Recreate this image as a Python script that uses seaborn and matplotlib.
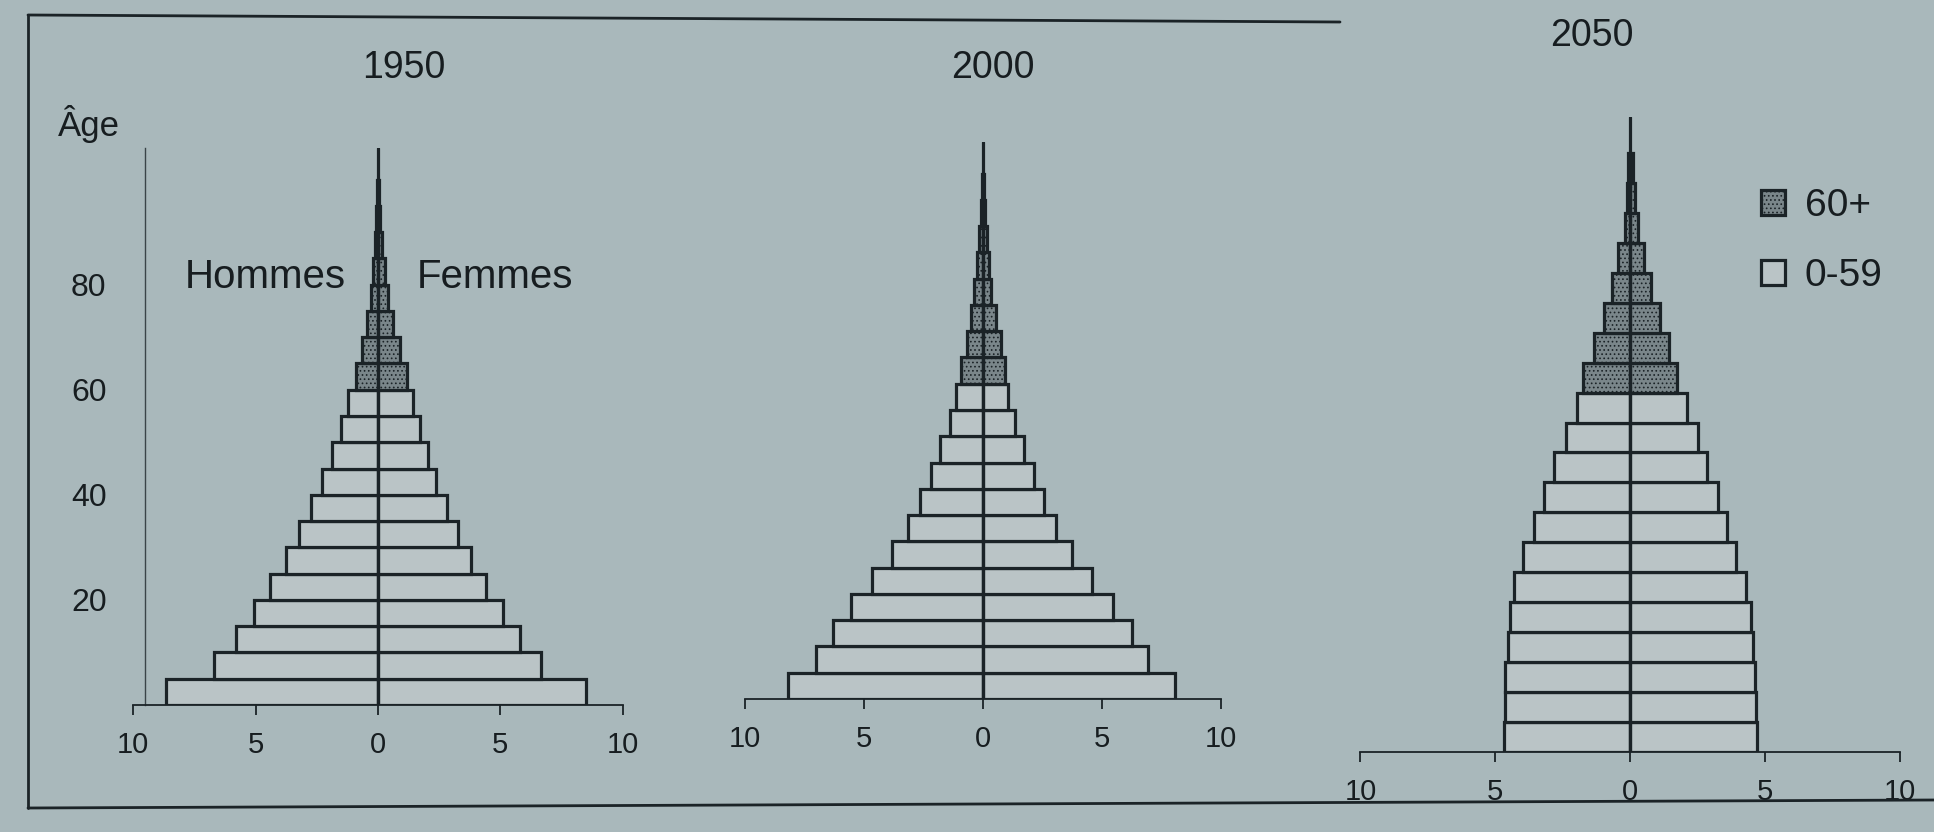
import numpy as np
import pandas as pd
import seaborn as sns
import matplotlib.pyplot as plt
from matplotlib.colors import to_rgb
from matplotlib.patches import Patch
from matplotlib.lines import Line2D

# --- data: share of total population (%) by 5-year age group ---
age_start = [0, 5, 10, 15, 20, 25, 30, 35, 40, 45, 50, 55, 60, 65, 70, 75, 80, 85, 90, 95]
years = ['1950', '2000', '2050']

men_1950 = [8.67, 6.69, 5.81, 5.06, 4.43, 3.77, 3.24, 2.72, 2.29, 1.87,
            1.52, 1.22, 0.91, 0.66, 0.44, 0.29, 0.20, 0.12, 0.07, 0.03]
women_1950 = [8.51, 6.67, 5.81, 5.09, 4.41, 3.81, 3.26, 2.82, 2.37, 2.04,
              1.73, 1.43, 1.20, 0.88, 0.60, 0.41, 0.28, 0.18, 0.10, 0.05]

men_2000 = [8.17, 7.00, 6.32, 5.56, 4.65, 3.82, 3.17, 2.64, 2.20, 1.80,
            1.39, 1.14, 0.91, 0.68, 0.52, 0.38, 0.25, 0.15, 0.08, 0.04]
women_2000 = [8.08, 6.92, 6.24, 5.48, 4.59, 3.74, 3.08, 2.58, 2.15, 1.74,
              1.36, 1.06, 0.94, 0.76, 0.53, 0.33, 0.25, 0.17, 0.10, 0.06]

men_2050 = [4.67, 4.65, 4.63, 4.54, 4.46, 4.29, 3.97, 3.57, 3.18, 2.81,
            2.39, 1.96, 1.75, 1.35, 0.96, 0.66, 0.43, 0.20, 0.12, 0.07]
women_2050 = [4.72, 4.66, 4.62, 4.57, 4.48, 4.29, 3.94, 3.60, 3.27, 2.87,
              2.54, 2.13, 1.73, 1.44, 1.10, 0.78, 0.52, 0.30, 0.18, 0.10]

men = {'1950': men_1950, '2000': men_2000, '2050': men_2050}
women = {'1950': women_1950, '2000': women_2000, '2050': women_2050}

rows = []
for y in years:
    for a, m, w in zip(age_start, men[y], women[y]):
        grp = '60+' if a >= 60 else '0-59'
        rows.append((y, a + 2.5, 'Hommes', -m, grp))
        rows.append((y, a + 2.5, 'Femmes', w, grp))
df = pd.DataFrame(rows, columns=['year', 'age', 'sex', 'value', 'group'])

# --- style ---
BG = '#a9b8bb'
LIGHT = '#bac4c6'
DARK = '#7a868a'
EDGE = '#1b2327'
TXT = '#171d20'

sns.set_style('white')
plt.rcParams['font.family'] = ['Liberation Sans', 'DejaVu Sans']
plt.rcParams['hatch.linewidth'] = 0.7

fig = plt.figure(figsize=(19.34, 8.32), dpi=100)
fig.patch.set_facecolor(BG)

W, H = 1934, 832
def box(left, top, right, bottom):
    return [left / W, 1 - bottom / H, (right - left) / W, (bottom - top) / H]

axes = [fig.add_axes(box(121, 148, 635, 705)),
        fig.add_axes(box(733, 142, 1233, 699)),
        fig.add_axes(box(1347, 117, 1913, 752))]

pal = {'0-59': LIGHT, '60+': DARK}
for ax, y in zip(axes, years):
    d = df[df['year'] == y]
    for sex in ['Hommes', 'Femmes']:
        sns.barplot(data=d[d['sex'] == sex], x='value', y='age', hue='group',
                    hue_order=['0-59', '60+'], palette=pal, orient='y',
                    native_scale=True, width=1, dodge=False, errorbar=None,
                    legend=False, saturation=1, edgecolor=EDGE, linewidth=2.3, ax=ax)
    for p in ax.patches:
        if np.allclose(p.get_facecolor()[:3], to_rgb(DARK)):
            p.set_hatch('....')
    ax.axvline(0, color=EDGE, lw=2.3, zorder=5)
    ax.set_facecolor('none')
    ax.set_xlim(-10.5, 10.5)
    ax.set_ylim(0, 106)
    ax.set_xticks([-10, -5, 0, 5, 10])
    ax.set_xticklabels(['10', '5', '0', '5', '10'])
    ax.set_xlabel('')
    ax.set_ylabel('')
    for s in ['top', 'right', 'left']:
        ax.spines[s].set_visible(False)
    ax.spines['bottom'].set_bounds(-10, 10)
    ax.spines['bottom'].set_linewidth(1.3)
    ax.spines['bottom'].set_color(EDGE)
    ax.tick_params(axis='x', direction='out', length=7, width=1.3, color=EDGE,
                   labelsize=21, labelcolor=TXT, pad=12, bottom=True)
    ax.set_yticks([])

# age axis on the first panel only
ax0 = axes[0]
ax0.spines['left'].set_visible(True)
ax0.spines['left'].set_position(('data', -9.5))
ax0.spines['left'].set_linewidth(1.0)
ax0.spines['left'].set_color('#3a4448')
ax0.set_yticks([20, 40, 60, 80])
ax0.tick_params(axis='y', length=0, labelsize=23, labelcolor=TXT, pad=28, left=True)
ax0.text(-4.6, 81.5, 'Hommes', ha='center', va='center', fontsize=29, color=TXT)
ax0.text(4.8, 81.5, 'Femmes', ha='center', va='center', fontsize=29, color=TXT)

fig.text(89 / W, 1 - 124 / H, 'Âge', ha='center', va='center', fontsize=25, color=TXT)
fig.text(404 / W, 1 - 68 / H, '1950', ha='center', va='center', fontsize=27, color=TXT)
fig.text(993 / W, 1 - 68 / H, '2000', ha='center', va='center', fontsize=27, color=TXT)
fig.text(1592 / W, 1 - 36 / H, '2050', ha='center', va='center', fontsize=27, color=TXT)

handles = [Patch(facecolor=DARK, edgecolor=EDGE, hatch='....', linewidth=2.3),
           Patch(facecolor=LIGHT, edgecolor=EDGE, linewidth=2.3)]
leg = fig.legend(handles, ['60+', '0-59'], loc='upper left',
                 bbox_to_anchor=(1761 / W, 1 - 188 / H), frameon=False,
                 fontsize=28, handlelength=0.62, handleheight=0.62,
                 handletextpad=0.5, labelspacing=0.87, borderpad=0,
                 borderaxespad=0)
for t in leg.get_texts():
    t.set_color(TXT)

# page frame of the printed figure
fig.add_artist(Line2D([28 / W, 28 / W], [1 - 15 / H, 1 - 808 / H], color=EDGE, lw=2))
fig.add_artist(Line2D([28 / W, 1340 / W], [1 - 15 / H, 1 - 22 / H], color=EDGE, lw=2))
fig.add_artist(Line2D([28 / W, 1.0], [1 - 808 / H, 1 - 800 / H], color=EDGE, lw=2))

fig.savefig('out.png', dpi=100, facecolor=fig.get_facecolor())
